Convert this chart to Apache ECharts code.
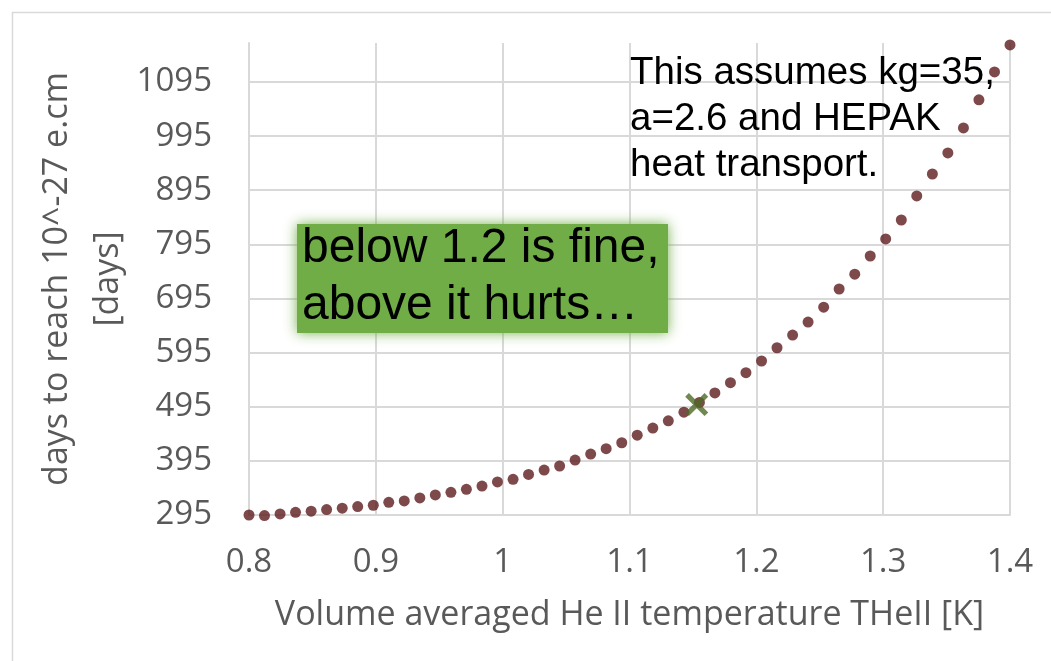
<!DOCTYPE html>
<html>
<head>
<meta charset="utf-8">
<title>Days to reach 10^-27 e.cm vs He II temperature</title>
<script src="https://cdn.jsdelivr.net/npm/echarts@6/dist/echarts.min.js"></script>
<style>
  html, body { margin: 0; padding: 0; background: #ffffff; }
  #chart { width: 1051px; height: 661px; }
</style>
</head>
<body>
<div id="chart"></div>
<script>
// Volume averaged He II temperature THeII [K]
const temperature = [
  0.8, 0.8122, 0.8245, 0.8367, 0.849, 0.8612, 0.8735, 0.8857, 0.898, 0.9102,
  0.9224, 0.9347, 0.9469, 0.9592, 0.9714, 0.9837, 0.9959, 1.0082, 1.0204, 1.0327,
  1.0449, 1.0571, 1.0694, 1.0816, 1.0939, 1.1061, 1.1184, 1.1306, 1.1429, 1.1551,
  1.1673, 1.1796, 1.1918, 1.2041, 1.2163, 1.2286, 1.2408, 1.2531, 1.2653, 1.2776,
  1.2898, 1.302, 1.3143, 1.3265, 1.3388, 1.351, 1.3633, 1.3755, 1.3878, 1.4
];

// days to reach 10^-27 e.cm
const days = [
  295, 294, 297, 300, 302, 305, 307.5, 310.5, 313, 318.5,
  321, 326.5, 332, 337, 342.5, 348.5, 356, 361, 370, 378,
  385.5, 396.5, 407.5, 417.5, 428.5, 442.5, 455.5, 469, 485, 503,
  520.5, 539.5, 558, 579.5, 604, 627.5, 651.5, 679, 712.5, 740,
  773.5, 805, 840, 884.5, 925, 964, 1010, 1062, 1113.5, 1163.5
];

// operating point
const operatingPoint = [1.153, 499];

// axis settings
const xTicks = { min: 0.8, max: 1.4, step: 0.1 };
const yTicks = { min: 295, max: 1167, step: 100 };

const noteText = 'This assumes kg=35,\na=2.6 and HEPAK\nheat transport.';
const calloutText = 'below 1.2 is fine,\nabove it hurts\u2026';

const axisFont = '"Open Sans", "DejaVu Sans", sans-serif';
const noteFont = '"Liberation Sans", Arial, sans-serif';
const gridColor = '#d9d9d9';
const textGray = '#595959';

const points = temperature.map((t, i) => [t, days[i]]);

const chart = echarts.init(document.getElementById('chart'), null, { renderer: 'canvas' });

chart.setOption({
  backgroundColor: '#ffffff',
  animation: false,
  grid: { left: 249, right: 41, top: 43, bottom: 146, containLabel: false },
  xAxis: {
    type: 'value',
    min: xTicks.min,
    max: xTicks.max,
    interval: xTicks.step,
    name: 'Volume averaged He II temperature THeII [K]',
    nameLocation: 'middle',
    nameGap: 83,
    nameMoveOverlap: false,
    nameTextStyle: { fontFamily: axisFont, fontSize: 34, color: textGray },
    axisLine: { show: true, onZero: false, lineStyle: { color: gridColor, width: 2 } },
    axisTick: { show: false },
    axisLabel: {
      fontFamily: axisFont, fontSize: 33, color: textGray, margin: 31,
      formatter: v => String(Math.round(v * 10) / 10)
    },
    splitLine: { show: true, lineStyle: { color: gridColor, width: 2 } }
  },
  yAxis: {
    type: 'value',
    min: yTicks.min,
    max: yTicks.max,
    interval: yTicks.step,
    name: 'days to reach 10^-27 e.cm\n[days]',
    nameLocation: 'middle',
    nameGap: 115,
    nameMoveOverlap: false,
    nameRotate: 90,
    nameTextStyle: { fontFamily: axisFont, fontSize: 34, color: textGray, lineHeight: 51 },
    axisLine: { show: true, lineStyle: { color: gridColor, width: 2 } },
    axisTick: { show: false },
    axisLabel: {
      fontFamily: axisFont, fontSize: 33, color: textGray, margin: 37,
      showMaxLabel: false,
      formatter: v => ((Math.round(v) - yTicks.min) % yTicks.step === 0 ? String(Math.round(v)) : '')
    },
    splitLine: { show: true, showMaxLine: false, lineStyle: { color: gridColor, width: 2 } }
  },
  series: [
    {
      name: 'days',
      type: 'scatter',
      data: points,
      symbol: 'circle',
      symbolSize: 11,
      clip: false,
      itemStyle: { color: '#5e1b1d' },
      z: 3
    },
    {
      name: 'operating point',
      type: 'scatter',
      data: [operatingPoint],
      symbol: 'path://M0,3.2 L3.2,0 L10,6.8 L16.8,0 L20,3.2 L13.2,10 L20,16.8 L16.8,20 L10,13.2 L3.2,20 L0,16.8 L6.8,10 Z',
      symbolSize: 23,
      clip: false,
      itemStyle: { color: '#4d6a25' },
      z: 4
    }
  ],
  graphic: [
    {
      type: 'rect',
      left: 10, top: 10,
      shape: { width: 1080, height: 700 },
      style: { fill: 'none', stroke: gridColor, lineWidth: 1.5 },
      silent: true, z: 0
    },
    {
      type: 'rect',
      left: 297, top: 224,
      shape: { width: 371, height: 109 },
      style: { fill: '#70ad47', shadowColor: 'rgba(112,173,71,0.95)', shadowBlur: 12 },
      silent: true, z: 10
    },
    {
      type: 'text',
      left: 302, top: 220,
      style: {
        text: calloutText,
        font: '48px ' + noteFont,
        fill: '#000000',
        lineHeight: 57
      },
      silent: true, z: 11
    },
    {
      type: 'text',
      left: 630, top: 50,
      style: {
        text: noteText,
        font: '38.5px ' + noteFont,
        fill: '#000000',
        lineHeight: 46
      },
      silent: true, z: 11
    }
  ]
});
</script>
</body>
</html>
